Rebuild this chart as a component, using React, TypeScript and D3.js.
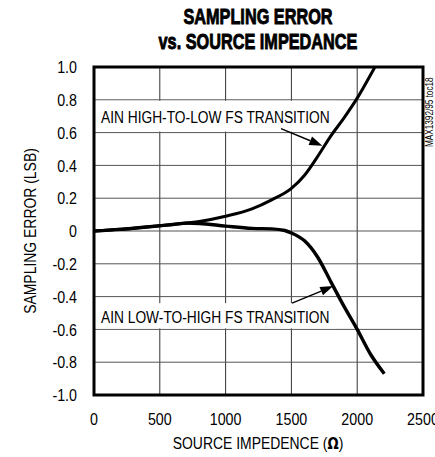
import React from "react";
import * as d3 from "d3";

const xTicks = [0, 500, 1000, 1500, 2000, 2500];
const yTicks = [1.0, 0.8, 0.6, 0.4, 0.2, 0, -0.2, -0.4, -0.6, -0.8, -1.0];
const yTickLabels = ["1.0", "0.8", "0.6", "0.4", "0.2", "0", "-0.2", "-0.4", "-0.6", "-0.8", "-1.0"];

const highToLowX = [0, 200, 400, 600, 800, 1000, 1200, 1350, 1500, 1600, 1700, 1800, 1900, 2000, 2100, 2135];
const highToLowY = [0, 0.01, 0.024, 0.04, 0.058, 0.09, 0.135, 0.19, 0.26, 0.34, 0.455, 0.58, 0.69, 0.81, 0.95, 1.0];

const lowToHighX = [0, 200, 400, 600, 700, 800, 1000, 1200, 1350, 1450, 1500, 1600, 1700, 1800, 1900, 2000, 2100, 2206];
const lowToHighY = [0, 0.01, 0.024, 0.04, 0.048, 0.046, 0.03, 0.016, 0.013, 0.003, -0.012, -0.06, -0.16, -0.31, -0.46, -0.6, -0.75, -0.87];

const labelHigh = "AIN HIGH-TO-LOW FS TRANSITION";
const labelLow = "AIN LOW-TO-HIGH FS TRANSITION";

const FONT = "'Liberation Sans', Arial, Helvetica, sans-serif";

type NTProps = {
  x: number;
  y: number;
  size: number;
  sx?: number;
  anchor?: "start" | "middle" | "end";
  weight?: string;
  rotate?: boolean;
  dy?: string;
  stroke?: number;
  children: React.ReactNode;
};

function NText({ x, y, size, sx = 0.82, anchor = "start", weight = "normal", rotate = false, dy, stroke, children }: NTProps) {
  return (
    <text
      transform={`translate(${x},${y})${rotate ? " rotate(-90)" : ""} scale(${sx},1)`}
      textAnchor={anchor}
      fontSize={size}
      fontWeight={weight}
      dy={dy}
      stroke={stroke ? "#000" : undefined}
      strokeWidth={stroke}
    >
      {children}
    </text>
  );
}

export default function App() {
  const W = 435, H = 457;
  const L = 94, T = 67, R = 423, B = 395;
  const x = d3.scaleLinear().domain([0, 2500]).range([L, R]);
  const y = d3.scaleLinear().domain([-1, 1]).range([B, T]);
  const line = d3
    .line<[number, number]>()
    .x((d) => x(d[0]))
    .y((d) => y(d[1]))
    .curve(d3.curveMonotoneX);
  const hi: [number, number][] = highToLowX.map((v, i) => [v, highToLowY[i]]);
  const lo: [number, number][] = lowToHighX.map((v, i) => [v, lowToHighY[i]]);

  const arrow = (x1: number, y1: number, x2: number, y2: number, key: string) => {
    const px1 = x(x1), py1 = y(y1), px2 = x(x2), py2 = y(y2);
    const ang = Math.atan2(py2 - py1, px2 - px1);
    const len = 13, wid = 4.5;
    const bx = px2 - len * Math.cos(ang), by = py2 - len * Math.sin(ang);
    const p1 = [bx + wid * Math.sin(ang), by - wid * Math.cos(ang)];
    const p2 = [bx - wid * Math.sin(ang), by + wid * Math.cos(ang)];
    return (
      <g key={key}>
        <line x1={px1} y1={py1} x2={bx} y2={by} stroke="#000" strokeWidth={1.4} />
        <polygon points={`${px2},${py2} ${p1[0]},${p1[1]} ${p2[0]},${p2[1]}`} fill="#000" />
      </g>
    );
  };

  return (
    <svg width={W} height={H} style={{ position: "absolute", left: 0, top: 0, background: "#fff" }} fontFamily={FONT}>
      <rect x={0} y={0} width={W} height={H} fill="#fff" />
      <NText x={258} y={24} size={22} sx={0.74} anchor="middle" weight="bold" stroke={0.9}>SAMPLING ERROR</NText>
      <NText x={258} y={49} size={22} sx={0.74} anchor="middle" weight="bold" stroke={0.9}>vs. SOURCE IMPEDANCE</NText>

      {xTicks.slice(1, -1).map((t) => (
        <line key={"gx" + t} x1={x(t)} x2={x(t)} y1={T} y2={B} stroke="#333" strokeWidth={1} />
      ))}
      {yTicks.slice(1, -1).map((t) => (
        <line key={"gy" + t} x1={L} x2={R} y1={y(t)} y2={y(t)} stroke="#555" strokeWidth={1} />
      ))}

      <rect x={x(15)} y={y(0.8) + 1} width={x(1840) - x(15)} height={y(0.6) - y(0.8) - 2} fill="#fff" />
      <rect x={x(15)} y={y(-0.44)} width={x(1840) - x(15)} height={y(-0.6) - y(-0.44) - 1} fill="#fff" />

      <NText x={x(53)} y={y(0.661)} size={17} sx={0.81}>{labelHigh}</NText>
      <NText x={x(53)} y={y(-0.56)} size={17} sx={0.81}>{labelLow}</NText>

      {arrow(1421, 0.624, 1735, 0.52, "a1")}
      {arrow(1505, -0.44, 1818, -0.336, "a2")}

      <path d={line(hi) || ""} fill="none" stroke="#000" strokeWidth={3} strokeLinejoin="round" />
      <path d={line(lo) || ""} fill="none" stroke="#000" strokeWidth={3.4} strokeLinejoin="round" />

      <rect x={L} y={T} width={R - L} height={B - T} fill="none" stroke="#000" strokeWidth={3} />

      {yTicks.map((t, i) => (
        <NText key={"yl" + t} x={77} y={y(t)} dy="0.36em" anchor="end" size={17} sx={0.84}>{yTickLabels[i]}</NText>
      ))}
      {xTicks.map((t) => (
        <NText key={"xl" + t} x={x(t)} y={425} anchor="middle" size={17} sx={0.84}>{t}</NText>
      ))}

      <NText x={258} y={449} anchor="middle" size={17}>
        SOURCE IMPEDENCE (<tspan fontFamily="'DejaVu Sans', sans-serif" fontWeight="bold" fontSize={16}>Ω</tspan>)
      </NText>
      <NText x={36} y={(T + B) / 2} rotate anchor="middle" size={17}>SAMPLING ERROR (LSB)</NText>
      <NText x={433} y={147} rotate anchor="start" size={10}>MAX1392/95 toc18</NText>
    </svg>
  );
}
